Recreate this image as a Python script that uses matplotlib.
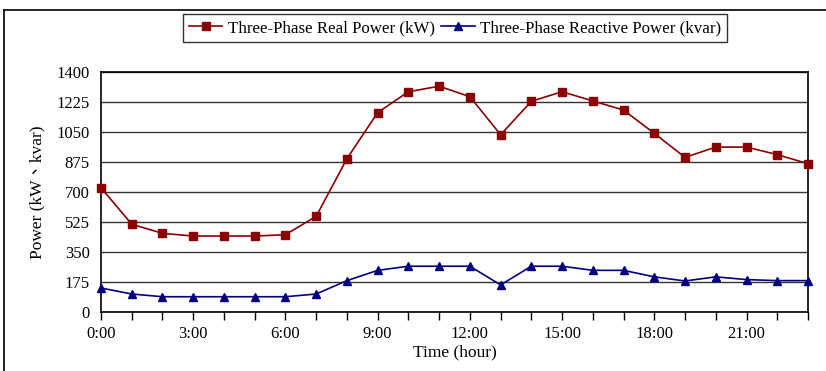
import matplotlib
matplotlib.use("Agg")
import matplotlib.pyplot as plt
from matplotlib.lines import Line2D

# Hourly three-phase power profile
hours = list(range(24))
real_power = [725, 512, 459, 443, 443, 443, 451, 558, 894, 1163, 1285, 1317,
              1256, 1034, 1229, 1285, 1231, 1178, 1042, 902, 962, 962, 918, 865]
reactive_power = [140, 105, 89, 89, 89, 89, 89, 105, 183, 243, 267, 267,
                  267, 158, 267, 267, 243, 243, 205, 181, 205, 189, 183, 183]
y_ticks = [0, 175, 350, 525, 700, 875, 1050, 1225, 1400]
x_tick_hours = [0, 3, 6, 9, 12, 15, 18, 21]
x_tick_labels = ["0:00", "3:00", "6:00", "9:00", "12:00", "15:00", "18:00", "21:00"]

W, H = 826, 371
fig = plt.figure(figsize=(W / 100, H / 100), dpi=100)
fonts = ["Liberation Serif", "Noto Sans CJK TC", "DejaVu Serif"]
plt.rcParams["font.family"] = fonts

# Outer chart frame (left and top edges visible)
fig.add_artist(Line2D([4 / W, 4 / W], [0, 1 - 10 / H], transform=fig.transFigure,
                      color="black", lw=1.2))
fig.add_artist(Line2D([4 / W, 1], [1 - 10 / H, 1 - 10 / H], transform=fig.transFigure,
                      color="black", lw=1.2))

ax = fig.add_axes([101 / W, 1 - 312 / H, 707 / W, 240 / H])
ax.plot(hours, real_power, color="#8B0000", lw=1.2, marker="s", markersize=5.5,
        label="Three-Phase Real Power (kW)", clip_on=False, zorder=3)
ax.plot(hours, reactive_power, color="#000080", lw=1.2, marker="^", markersize=6,
        label="Three-Phase Reactive Power (kvar)", clip_on=False, zorder=3)

ax.set_xlim(0, 23)
ax.set_ylim(0, 1400)
ax.set_yticks(y_ticks)
ax.set_yticklabels([str(v) for v in y_ticks])
ax.set_xticks(hours, minor=False)
ax.set_xticklabels([x_tick_labels[x_tick_hours.index(h)] if h in x_tick_hours else ""
                    for h in hours])
ax.tick_params(axis="x", direction="out", length=6, width=1, labelsize=12, pad=4)
ax.tick_params(axis="y", direction="out", length=0, labelsize=12, pad=8)
ax.yaxis.grid(True, color="#333333", lw=1)
ax.set_axisbelow(True)
for sp in ax.spines.values():
    sp.set_linewidth(1.2)
    sp.set_color("black")

ax.set_xlabel("Time (hour)", fontsize=12.5, labelpad=2)
ax.set_ylabel("Power (kW、kvar)", fontsize=12.5, labelpad=8)

leg = fig.legend(loc="center", bbox_to_anchor=(455 / W, 1 - 28 / H), ncol=2,
                 fontsize=12.2, frameon=True, fancybox=False, edgecolor="black",
                 handlelength=2.0, handletextpad=0.3, columnspacing=0.4,
                 borderpad=0.35)
leg.get_frame().set_linewidth(1.0)

fig.savefig("out.png", dpi=100)
